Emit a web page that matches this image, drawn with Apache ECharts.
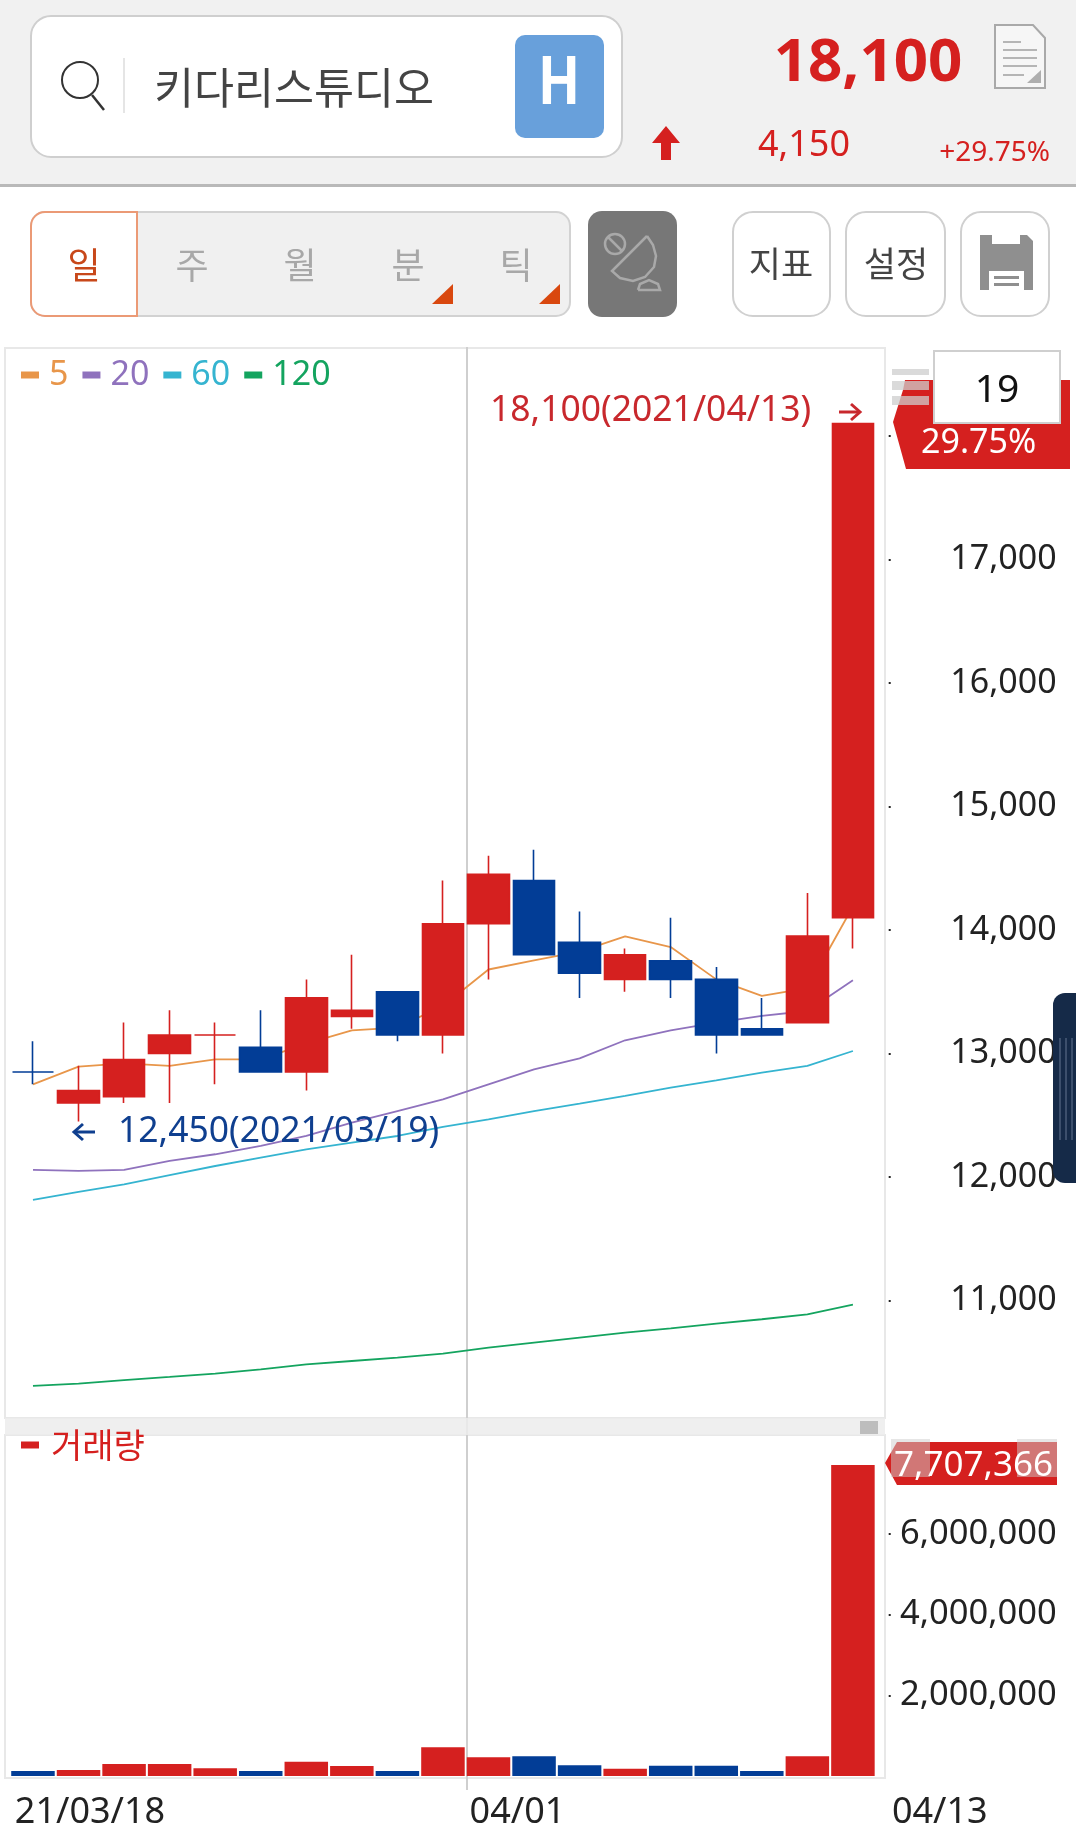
<!DOCTYPE html>
<html>
<head>
<meta charset="utf-8">
<script src="https://cdn.jsdelivr.net/npm/echarts@6/dist/echarts.min.js"></script>
<style>
html,body{margin:0;padding:0;background:#fff}
#chart{width:1076px;height:1845px}
</style>
</head>
<body>
<div id="chart"></div>
<script>
// daily bars
var dates = ['21/03/18','03/19','03/22','03/23','03/24','03/25','03/26','03/29','03/30','03/31','04/01','04/02','04/05','04/06','04/07','04/08','04/09','04/12','04/13'];
var opens  = [12850,12600,12650,13000,13150,13050,12850,13300,13500,13150,14050,14400,13900,13600,13750,13600,13200,13250,14100];
var closes = [12850,12700,12950,13150,13150,12850,13450,13350,13150,14050,14450,13800,13650,13800,13600,13150,13150,13950,18100];
var lows   = [12750,12450,12600,12600,12750,12850,12700,13200,13100,13000,13600,13800,13450,13500,13450,13000,13150,13250,13850];
var highs  = [13100,12900,13250,13350,13250,13350,13600,13800,13500,14400,14600,14650,14150,13850,14100,13700,13450,14300,18100];
var ma5   = [12750,12893,12920,12900,12953,12953,13080,13187,13210,13385,13680,13754,13825,13949,13862,13600,13466,13530,14190];
var ma20  = [12057,12049,12057,12130,12184,12251,12332,12440,12534,12629,12750,12872,12961,13107,13188,13250,13304,13344,13592];
var ma60  = [11814,11879,11941,12016,12089,12157,12224,12278,12332,12405,12467,12534,12594,12656,12723,12783,12845,12899,13020];
var ma120 = [10308,10327,10356,10381,10408,10443,10483,10510,10537,10570,10618,10659,10699,10740,10775,10813,10848,10888,10966];
var volumes = [124000,149000,297000,297000,190000,124000,355000,248000,124000,710000,463000,487000,264000,182000,256000,256000,124000,487000,7707366];
var isUp = [false,true,true,true,true,false,true,true,false,true,true,false,false,true,false,false,false,true,true];
var priceTicks = [11000,12000,13000,14000,15000,16000,17000,18000];
var volumeTicks = [2000000,4000000,6000000];
var shownDates = [0,10,18];
var maNames = ['5','20','60','120'];

var RED = '#d5201f', BLUE = '#023d96';
var FONT = "'Noto Sans','Noto Sans CJK KR',sans-serif";
var KR = "'Noto Sans CJK KR',sans-serif";

var chart = echarts.init(document.getElementById('chart'), null, {renderer: 'canvas'});

function fmt(v) { return echarts.format.addCommas(v); }

function rect(x, y, w, h, fill, z, r, stroke) {
  return {type: 'rect', z: z, silent: true, shape: {x: x, y: y, width: w, height: h, r: r || 0},
    style: {fill: fill, stroke: stroke || null, lineWidth: stroke ? 2 : 0}};
}
function label(text, x, y, size, color, z, opt) {
  opt = opt || {};
  return {type: 'text', z: z, silent: true, x: x, y: y, scaleX: opt.scaleX || 1,
    style: {text: text, fontSize: size, fontFamily: opt.font || FONT, fontWeight: opt.weight || 'normal',
      fill: color, align: opt.align || 'left', verticalAlign: 'middle'}};
}
function poly(points, fill, z, stroke, w) {
  return {type: stroke && !fill ? 'polyline' : 'polygon', z: z, silent: true, shape: {points: points},
    style: {fill: fill || null, stroke: stroke || null, lineWidth: w || 0}};
}
function seg(x1, y1, x2, y2, color, w, z) {
  return {type: 'line', z: z, silent: true, shape: {x1: x1, y1: y1, x2: x2, y2: y2}, style: {stroke: color, lineWidth: w}};
}

// phone screen around the chart
var screen = [
  rect(0, 0, 1076, 184, '#f1f1f1', 0),
  rect(0, 184, 1076, 3, '#b9b9b9', 0),
  rect(31, 16, 591, 141, '#fff', 0, 20, '#cfcfcf'),
  {type: 'circle', z: 1, silent: true, shape: {cx: 80, cy: 80, r: 18}, style: {fill: null, stroke: '#333', lineWidth: 2}},
  seg(92, 95, 104, 110, '#333', 2.5, 1),
  seg(124, 58, 124, 113, '#ddd', 1.5, 1),
  label('키다리스튜디오', 154, 87, 43.5, '#444', 1, {font: KR}),
  rect(515, 35, 89, 103, '#68a0db', 1, 10),
  label('H', 559, 87, 66, '#fff', 2, {font: 'Roboto', weight: 'bold', align: 'center', scaleX: 0.85}),
  label('18,100', 868, 64, 60, RED, 1, {weight: 'bold', align: 'center'}),
  poly([[995,25],[1033,25],[1045,38],[1045,88],[995,88]], '#f6f6f6', 1, '#a9a9a9', 2),
  seg(1003, 42, 1021, 42, '#b5b5b5', 2, 2), seg(1003, 50, 1037, 50, '#b5b5b5', 2, 2),
  seg(1003, 58, 1037, 58, '#b5b5b5', 2, 2), seg(1003, 66, 1037, 66, '#b5b5b5', 2, 2),
  seg(1003, 75, 1024, 75, '#b5b5b5', 2, 2),
  poly([[1041,70],[1041,83],[1027,83]], '#aeaeae', 2),
  poly([[666,126],[680,143],[671,143],[671,160],[661,160],[661,143],[652,143]], RED, 1),
  label('4,150', 758, 146, 36, RED, 1),
  label('+29.75%', 1050, 153, 28, RED, 1, {align: 'right'}),

  rect(31, 212, 539, 104, '#f0f0f0', 0, 14, '#d2d2d2'),
  rect(31, 212, 106, 104, '#fff', 1, [14, 0, 0, 14], '#eb9a76'),
  label('일', 84, 265, 36, '#c8481a', 2, {font: KR, align: 'center'}),
  label('주', 192, 265, 36, '#a8a8a8', 1, {font: KR, align: 'center'}),
  label('월', 300, 265, 36, '#a8a8a8', 1, {font: KR, align: 'center'}),
  label('분', 408, 265, 36, '#a8a8a8', 1, {font: KR, align: 'center'}),
  label('틱', 516, 265, 36, '#a8a8a8', 1, {font: KR, align: 'center'}),
  poly([[453,284],[453,304],[432,304]], '#d9480f', 1),
  poly([[560,284],[560,304],[539,304]], '#d9480f', 1),

  rect(588, 211, 89, 106, '#777', 1, 14),
  {type: 'circle', z: 2, silent: true, shape: {cx: 615, cy: 244, r: 10}, style: {fill: null, stroke: '#a9a9a9', lineWidth: 2.5}},
  seg(608, 237, 622, 251, '#a9a9a9', 2.5, 2),
  poly([[647,236],[612,271],[620,278],[633,281],[645,277],[654,267],[656,256],[653,245],[647,236]], null, 2, '#a9a9a9', 2.5),
  poly([[638,290],[640,284],[649,280],[658,284],[660,290],[638,290]], null, 2, '#a9a9a9', 2.5),

  rect(733, 212, 97, 104, '#fff', 0, 20, '#d0d0d0'),
  label('지표', 781, 264, 35, '#444', 1, {font: KR, align: 'center'}),
  rect(846, 212, 99, 104, '#fff', 0, 20, '#d0d0d0'),
  label('설정', 896, 264, 35, '#444', 1, {font: KR, align: 'center'}),
  rect(961, 212, 88, 104, '#fff', 0, 20, '#d0d0d0'),
  poly([[980,235],[1027,235],[1033,241],[1033,290],[980,290]], '#8f8f8f', 1),
  rect(992, 235, 28, 9, '#fff', 2),
  rect(989, 271, 35, 19, '#fff', 2),
  rect(994, 276, 25, 3, '#8f8f8f', 3),
  rect(994, 283, 25, 3, '#8f8f8f', 3),

  // chart panels
  rect(5, 348, 880, 1070, '#fff', 0, 0, '#e8e8e8'),
  rect(5, 1435, 880, 343, '#fff', 0, 0, '#e8e8e8'),
  seg(467, 347, 467, 1790, '#cfcfcf', 2, 0),
  rect(5, 1418, 880, 17, 'rgba(236,236,236,.85)', 5),
  rect(860, 1421, 18, 13, '#bdbdbd', 6),

  // last and low price notes
  label(fmt(closes[18]) + '(2021/04/13)', 490, 411, 35.5, '#c8282d', 10),
  seg(839, 412, 860, 412, '#c8282d', 3, 10),
  poly([[851,404],[860,412],[851,420]], null, 10, '#c8282d', 3),
  label(fmt(lows[1]) + '(2021/03/19)', 118, 1132, 35.5, '#0f3f8f', 10),
  seg(74, 1132, 95, 1132, '#0f3f8f', 3, 10),
  poly([[83,1124],[74,1132],[83,1140]], null, 10, '#0f3f8f', 3),

  // tags on the right edge
  poly([[905,380],[1070,380],[1070,469],[906,469],[893,422],[903,390]], RED, 20),
  rect(892, 369, 37, 6, 'rgba(205,205,205,.75)', 21),
  rect(892, 381, 37, 9, 'rgba(205,205,205,.75)', 21),
  rect(892, 396, 37, 9, 'rgba(205,205,205,.75)', 21),
  label('29.75%', 921, 443, 34, '#fff', 22),
  rect(934, 351, 126, 72, '#fff', 23, 0, '#cfcfcf'),
  label('19', 997, 391, 39, '#111', 24, {align: 'center'}),
  poly([[897,1442],[1057,1442],[1057,1485],[897,1485],[885,1463]], RED, 20),
  rect(891, 1439, 39, 38, 'rgba(205,205,205,.5)', 21),
  rect(1017, 1439, 40, 38, 'rgba(205,205,205,.5)', 21),
  label(fmt(volumes[18]), 1053, 1466, 35, '#fff', 22, {align: 'right'}),

  // dark side handle
  rect(1053, 993, 40, 190, '#152a48', 30, 12),
  seg(1060, 1038, 1060, 1140, '#4a5d78', 1.5, 31),
  seg(1066, 1038, 1066, 1140, '#4a5d78', 1.5, 31),
  seg(1072, 1038, 1072, 1140, '#4a5d78', 1.5, 31)
];

var candles = dates.map(function (d, i) {
  var item = {value: [opens[i], closes[i], lows[i], highs[i]]};
  if (opens[i] === closes[i]) {
    var c = isUp[i] ? RED : BLUE;
    item.itemStyle = {color: c, color0: c, borderColor: c, borderColor0: c};
  }
  return item;
});
var volumeData = volumes.map(function (v, i) {
  return {value: v, itemStyle: {color: isUp[i] ? RED : BLUE}};
});
// date labels start left of their bar, the last one sits under the axis
var dateItems = dates.map(function (d, i) {
  if (i === 0) return {value: d, textStyle: {align: 'center', padding: [0, 0, 0, 114]}};
  if (i === 10) return {value: d, textStyle: {align: 'center', padding: [0, 0, 0, 58]}};
  if (i === 18) return {value: d, textStyle: {align: 'left', padding: [0, 0, 0, 39]}};
  return d;
});

function maSeries(name, data, color) {
  return {name: name, type: 'line', data: data, xAxisIndex: 0, yAxisIndex: 0, symbol: 'none', z: 1,
    lineStyle: {color: color, width: 1.8}, itemStyle: {color: color}, silent: true};
}
var maColors = ['#e8964a', '#8f72bd', '#35b4d0', '#14a45f'];

chart.setOption({
  backgroundColor: '#fff',
  animation: false,
  grid: [
    {left: 10.2, width: 865.5, top: 349.5, height: 1074.5},
    {left: 10.2, width: 865.5, top: 1436, height: 340}
  ],
  legend: [
    {
      left: 21, top: 358, padding: 0, itemGap: 14, itemWidth: 18, itemHeight: 7, icon: 'rect',
      data: maNames.map(function (n, i) { return {name: n, textStyle: {color: maColors[i]}}; }),
      textStyle: {fontSize: 34, fontFamily: FONT, padding: [0, 0, 0, 5]}, selectedMode: false
    },
    {
      left: 21, top: 1428, padding: 0, itemWidth: 18, itemHeight: 7, icon: 'rect',
      data: ['거래량'], z: 10,
      textStyle: {fontSize: 34, fontFamily: KR, color: RED, padding: [0, 0, 0, 7]}, selectedMode: false
    }
  ],
  xAxis: [
    {type: 'category', data: dates, gridIndex: 0, boundaryGap: true,
      axisLine: {show: false}, axisTick: {show: false}, axisLabel: {show: false}, splitLine: {show: false}},
    {type: 'category', data: dateItems, gridIndex: 1, boundaryGap: true,
      axisLine: {show: false}, axisTick: {show: false}, splitLine: {show: false},
      axisLabel: {
        interval: function (i) { return shownDates.indexOf(i) >= 0; },
        color: '#222', fontSize: 36, fontFamily: FONT, margin: 19
      }}
  ],
  yAxis: [
    {type: 'value', gridIndex: 0, position: 'right', offset: 13, min: 10000, max: 18700, interval: 1000, scale: true,
      axisLine: {show: false}, splitLine: {show: false},
      axisTick: {show: true, length: 2, customValues: priceTicks, lineStyle: {color: '#222', width: 2}},
      axisLabel: {customValues: priceTicks, align: 'right', margin: 168, color: '#222', fontSize: 34, fontFamily: FONT,
        padding: [9, 0, 0, 0], formatter: function (v) { return fmt(v); }}},
    {type: 'value', gridIndex: 1, position: 'right', offset: 13, min: 0, max: 8426000, interval: 2000000,
      axisLine: {show: false}, splitLine: {show: false},
      axisTick: {show: true, length: 2, customValues: volumeTicks, lineStyle: {color: '#222', width: 2}},
      axisLabel: {customValues: volumeTicks, align: 'right', margin: 168, color: '#222', fontSize: 34.5, fontFamily: FONT,
        padding: [6, 0, 0, 0], formatter: function (v) { return fmt(v); }}}
  ],
  series: [
    maSeries(maNames[0], ma5, maColors[0]),
    maSeries(maNames[1], ma20, maColors[1]),
    maSeries(maNames[2], ma60, maColors[2]),
    maSeries(maNames[3], ma120, maColors[3]),
    {type: 'candlestick', name: 'price', data: candles, xAxisIndex: 0, yAxisIndex: 0, barWidth: 42, z: 2, silent: true,
      itemStyle: {color: RED, color0: BLUE, borderColor: RED, borderColor0: BLUE, borderWidth: 1.6}},
    {type: 'bar', name: '거래량', data: volumeData, xAxisIndex: 1, yAxisIndex: 1, barWidth: 43.5, silent: true,
      itemStyle: {color: RED}}
  ],
  graphic: {elements: screen}
});
</script>
</body>
</html>
